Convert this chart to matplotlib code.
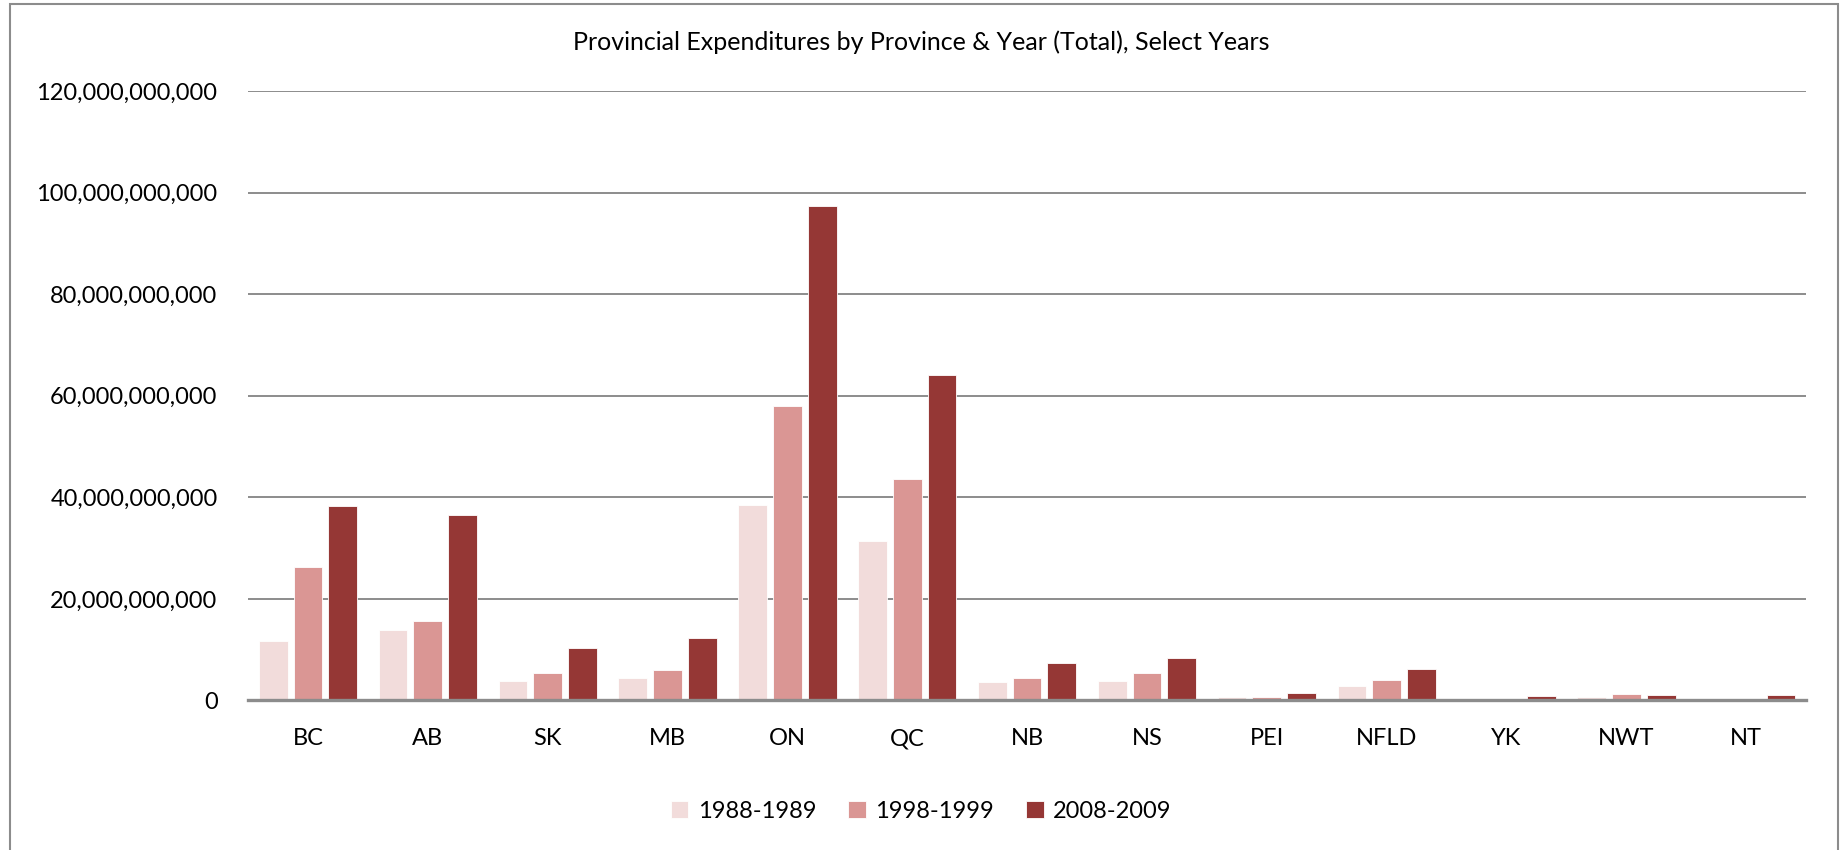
import matplotlib
matplotlib.use("Agg")
import matplotlib.pyplot as plt
import numpy as np
from matplotlib.patches import Rectangle
from matplotlib.ticker import FuncFormatter

provinces = ["BC", "AB", "SK", "MB", "ON", "QC", "NB", "NS", "PEI", "NFLD", "YK", "NWT", "NT"]
series_labels = ["1988-1989", "1998-1999", "2008-2009"]
v1988 = [11.8e9, 13.9e9, 3.9e9, 4.4e9, 38.4e9, 31.3e9, 3.55e9, 3.9e9, 0.6e9, 2.9e9, 0.3e9, 0.7e9, 0.0]
v1998 = [26.3e9, 15.6e9, 5.5e9, 6.0e9, 58.0e9, 43.6e9, 4.5e9, 5.45e9, 0.73e9, 4.1e9, 0.35e9, 1.3e9, 0.0]
v2008 = [38.2e9, 36.6e9, 10.3e9, 12.35e9, 97.3e9, 64.0e9, 7.3e9, 8.4e9, 1.38e9, 6.25e9, 0.9e9, 1.1e9, 1.1e9]
colors = ["#F2DCDB", "#DA9694", "#953735"]

plt.rcParams['font.family'] = ['Lato', 'DejaVu Sans']

fig = plt.figure(figsize=(18.43, 8.5), dpi=100)
ax = fig.add_axes([0.1346, 0.1759, 0.98 - 0.1346, 0.893 - 0.1759])

x = np.arange(len(provinces))
w = 0.24
step = 0.29
for i, (vals, lab, c) in enumerate(zip([v1988, v1998, v2008], series_labels, colors)):
    ax.bar(x + (i - 1) * step, vals, width=w, color=c, label=lab,
           edgecolor="white", linewidth=0.6, zorder=3)

ax.set_xlim(-0.5, len(provinces) - 0.5)
ax.set_ylim(0, 120e9)
ax.set_yticks(np.arange(0, 120e9 + 1, 20e9))
ax.yaxis.set_major_formatter(FuncFormatter(lambda v, p: f"{int(round(v)):,}"))
ax.set_xticks(x)
ax.set_xticklabels(provinces)
ax.tick_params(axis='both', length=0, labelsize=17, colors="#000000")
ax.tick_params(axis='y', pad=22)
ax.tick_params(axis='x', pad=20)
ax.grid(axis='y', color="#8C8C8C", linewidth=1.4, zorder=0)
ax.set_axisbelow(True)
for s in ["top", "right", "left"]:
    ax.spines[s].set_visible(False)
ax.spines["bottom"].set_color("#8C8C8C")
ax.spines["bottom"].set_linewidth(2.4)
ax.spines["bottom"].set_zorder(4)

fig.text(0.5, 1 - 42 / 850, "Provincial Expenditures by Province & Year (Total), Select Years",
         ha="center", va="center", fontsize=18)

leg = fig.legend(loc="center", bbox_to_anchor=(921 / 1843, 1 - 811 / 850), ncol=3,
                 frameon=False, fontsize=17, handlelength=0.75, handleheight=0.75,
                 handletextpad=0.4, columnspacing=1.35)

fig.patches.append(Rectangle((10 / 1843, -0.05), (1838 - 10) / 1843, 1.05 - 4 / 850,
                             transform=fig.transFigure, fill=False,
                             edgecolor="#8C8C8C", linewidth=1.5))

fig.savefig("out.png", dpi=100, facecolor="white")
